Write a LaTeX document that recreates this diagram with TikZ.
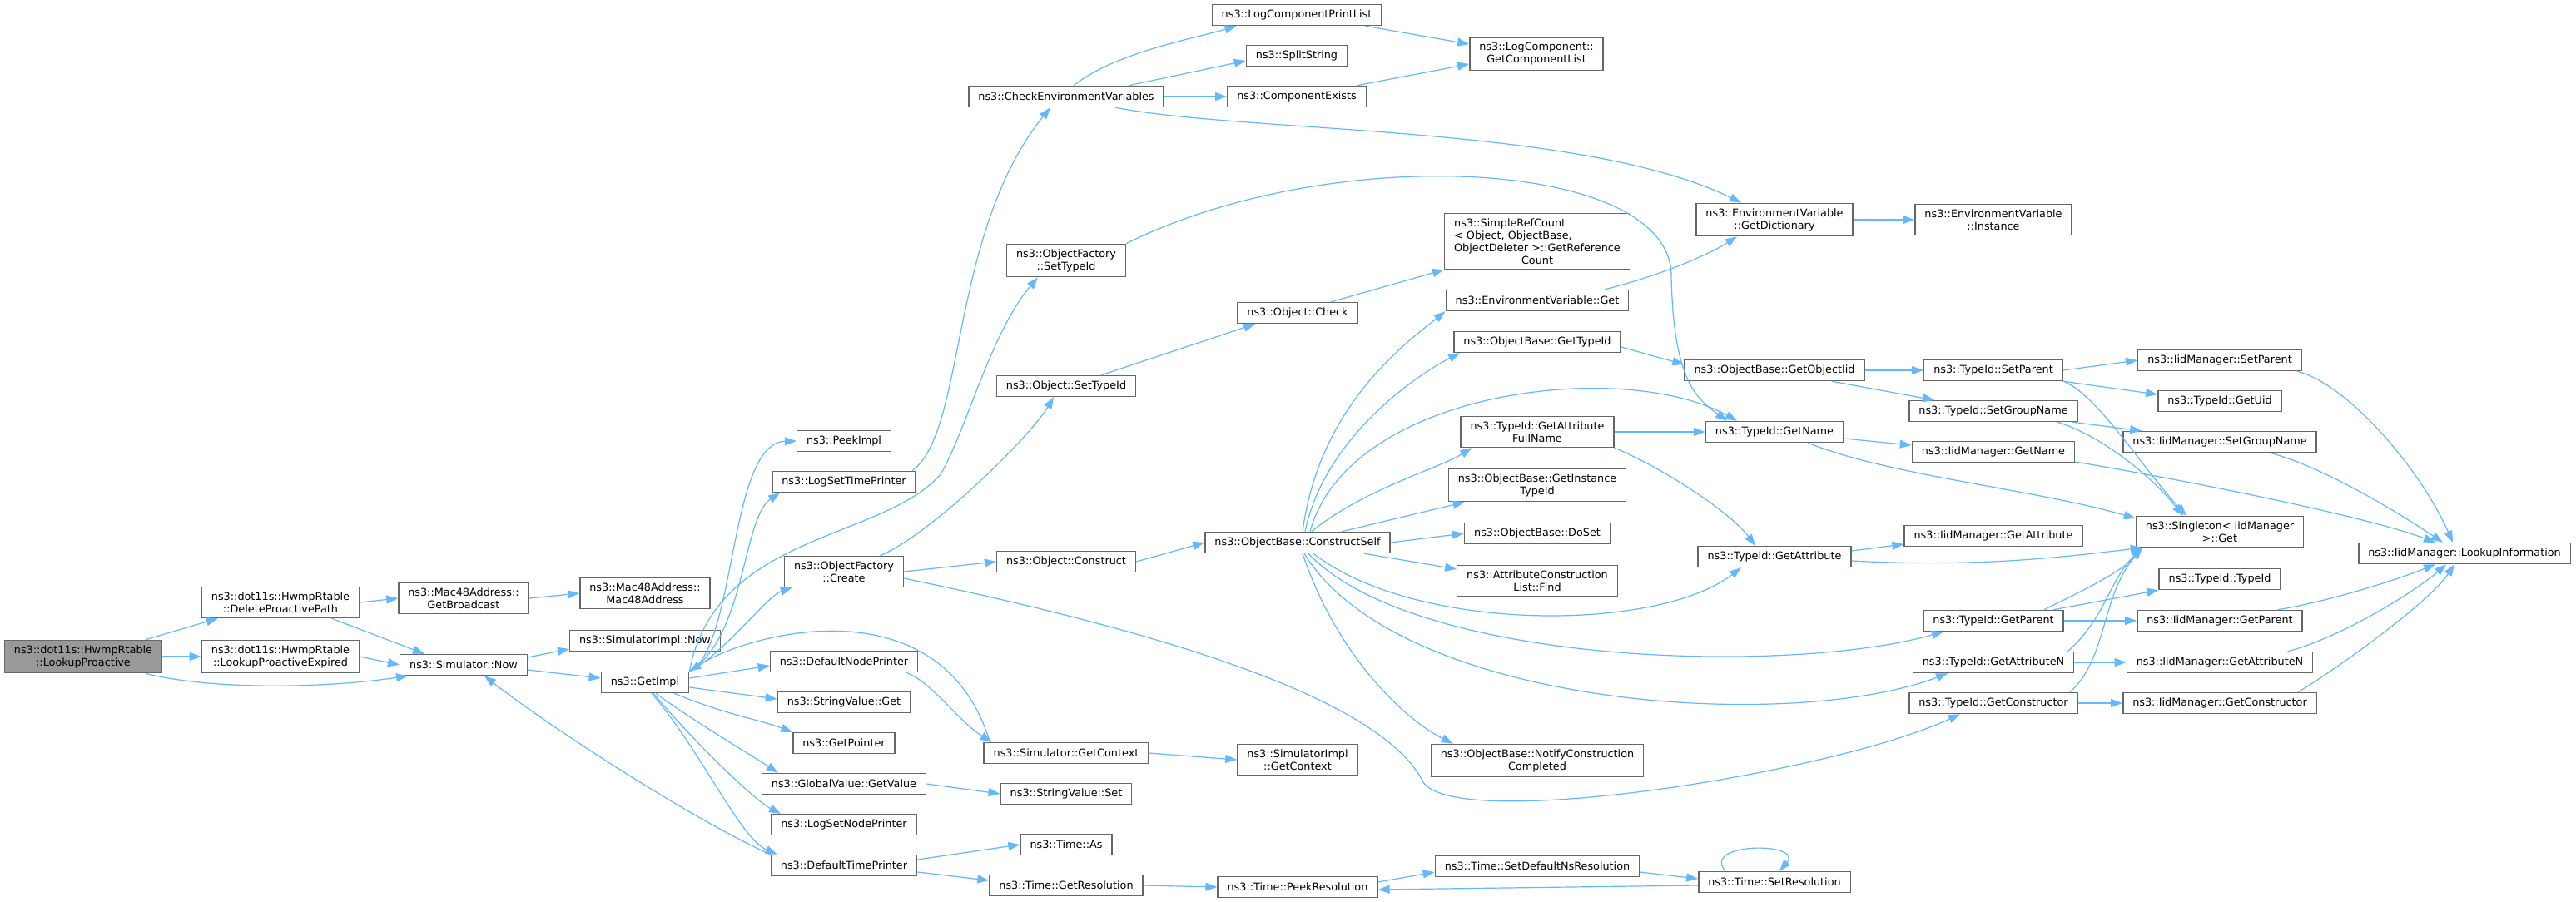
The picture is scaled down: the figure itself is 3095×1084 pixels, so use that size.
\documentclass[tikz,border=0pt]{standalone}
\usepackage{fontspec}
\setmainfont{DejaVu Sans}
\usepackage{calc}
\usepackage{xcolor}
\usepackage{tikz}
\usetikzlibrary{arrows.meta}
\definecolor{azzurro}{HTML}{63B8FF}
\definecolor{bordo}{HTML}{666666}
\definecolor{grigio}{HTML}{999999}

\begin{document}
\begin{tikzpicture}[x=1pt, y=-1pt,
    every node/.style={
        rectangle, draw=bordo, line width=1.4pt,
        fill=white, align=center,
        inner xsep=11.5pt, inner ysep=6pt, minimum height=25pt,
        font=\fontsize{12.8}{15}\selectfont % stesso corpo per tutte le caselle
    },
    radice/.style={fill=grigio},
    chiamata/.style={draw=azzurro, line width=1.2pt, -{Triangle[length=14pt,width=10pt]}}
]
\useasboundingbox[fill=white] (0,0) rectangle (3095,1084);

% colonne da sinistra a destra
\node[radice] (lp) at (100,789) {ns3::dot11s::HwmpRtable\\::LookupProactive};
\node (dpp) at (337,724) {ns3::dot11s::HwmpRtable\\::DeleteProactivePath};
\node (lpe) at (337,789) {ns3::dot11s::HwmpRtable\\::LookupProactiveExpired};
\node (gb) at (557,719) {ns3::Mac48Address::\\GetBroadcast};
\node (snow) at (557,799) {ns3::Simulator::Now};
\node (mm) at (775,713) {ns3::Mac48Address::\\Mac48Address};
\node (sin) at (775,770) {ns3::SimulatorImpl::Now};
\node (getimpl) at (775,820) {ns3::GetImpl};
\node (peekimpl) at (1014,530) {ns3::PeekImpl};
\node (lstp) at (1014,579) {ns3::LogSetTimePrinter};
\node (create) at (1014,687) {ns3::ObjectFactory\\::Create};
\node (dnp) at (1014,795) {ns3::DefaultNodePrinter};
\node (svget) at (1014,844) {ns3::StringValue::Get};
\node (getpointer) at (1014,893) {ns3::GetPointer};
\node (gvget) at (1014,942) {ns3::GlobalValue::GetValue};
\node (lsnp) at (1014,991) {ns3::LogSetNodePrinter};
\node (dtp) at (1014,1040) {ns3::DefaultTimePrinter};
\node (checkenv) at (1281,116) {ns3::CheckEnvironmentVariables};
\node (ofsettypeid) at (1281,313) {ns3::ObjectFactory\\::SetTypeId};
\node (objsettypeid) at (1281,464) {ns3::Object::SetTypeId};
\node (construct) at (1281,675) {ns3::Object::Construct};
\node (simgetcontext) at (1281,905) {ns3::Simulator::GetContext};
\node (svset) at (1281,954) {ns3::StringValue::Set};
\node (timeas) at (1281,1015) {ns3::Time::As};
\node (getres) at (1281,1064) {ns3::Time::GetResolution};
\node (lcpl) at (1558,18) {ns3::LogComponentPrintList};
\node (split) at (1558,67) {ns3::SplitString};
\node (compexists) at (1558,116) {ns3::ComponentExists};
\node (objcheck) at (1559,376) {ns3::Object::Check};
\node (constructself) at (1559,652) {ns3::ObjectBase::ConstructSelf};
\node (sigetcontext) at (1559,913) {ns3::SimulatorImpl\\::GetContext};
\node (peekres) at (1559,1066) {ns3::Time::PeekResolution};
\node (getcomplist) at (1846,65) {ns3::LogComponent::\\GetComponentList};
\node (simplerefcount) at (1847,290) {\makebox[\widthof{ObjectDeleter >::GetReference}][l]{ns3::SimpleRefCount}\\\makebox[\widthof{ObjectDeleter >::GetReference}][l]{< Object, ObjectBase,}\\ObjectDeleter >::GetReference\\Count};
\node (envget) at (1847,361) {ns3::EnvironmentVariable::Get};
\node (obgettypeid) at (1847,411) {ns3::ObjectBase::GetTypeId};
\node (getattrfullname) at (1847,519) {ns3::TypeId::GetAttribute\\FullName};
\node (getinsttypeid) at (1847,583) {ns3::ObjectBase::GetInstance\\TypeId};
\node (doset) at (1847,641) {ns3::ObjectBase::DoSet};
\node (aclfind) at (1847,698) {ns3::AttributeConstruction\\List::Find};
\node (notifycc) at (1847,914) {ns3::ObjectBase::NotifyConstruction\\Completed};
\node (setdefns) at (1847,1041) {ns3::Time::SetDefaultNsResolution};
\node (getdict) at (2132,264) {ns3::EnvironmentVariable\\::GetDictionary};
\node (getobjectiid) at (2132,445) {ns3::ObjectBase::GetObjectIid};
\node (tigetname) at (2132,519) {ns3::TypeId::GetName};
\node (tigetattr) at (2132,669) {ns3::TypeId::GetAttribute};
\node (setres) at (2132,1060) {ns3::Time::SetResolution};
\node (envinstance) at (2395,264) {ns3::EnvironmentVariable\\::Instance};
\node (tisetparent) at (2395,445) {ns3::TypeId::SetParent};
\node (tisetgroupname) at (2395,494) {ns3::TypeId::SetGroupName};
\node (iidgetname) at (2395,543) {ns3::IidManager::GetName};
\node (iidgetattr) at (2395,644) {ns3::IidManager::GetAttribute};
\node (tigetparent) at (2395,746) {ns3::TypeId::GetParent};
\node (tigetattrn) at (2395,796) {ns3::TypeId::GetAttributeN};
\node (tigetctor) at (2395,845) {ns3::TypeId::GetConstructor};
\node (iidsetparent) at (2667,433) {ns3::IidManager::SetParent};
\node (getuid) at (2667,482) {ns3::TypeId::GetUid};
\node (iidsetgroupname) at (2667,531) {ns3::IidManager::SetGroupName};
\node (singleton) at (2667,639) {ns3::Singleton< IidManager\\ >::Get};
\node (titypeid) at (2667,696) {ns3::TypeId::TypeId};
\node (iidgetparent) at (2667,746) {ns3::IidManager::GetParent};
\node (iidgetattrn) at (2667,796) {ns3::IidManager::GetAttributeN};
\node (iidgetctor) at (2667,845) {ns3::IidManager::GetConstructor};
\node (lookupinfo) at (2961,665) {ns3::IidManager::LookupInformation};

% chiamate dritte
\foreach \sorg/\dest in {lp/lpe, dpp/gb, lpe/snow, gb/mm, gvget/svset,
    simgetcontext/sigetcontext, getres/peekres, checkenv/compexists,
    create/construct, construct/constructself, constructself/doset,
    getdict/envinstance, getattrfullname/tigetname, getobjectiid/tisetparent,
    tisetparent/iidsetparent, tigetparent/iidgetparent,
    tigetattrn/iidgetattrn, tigetctor/iidgetctor}
    \draw[chiamata] (\sorg.east) -- (\dest.west);

\draw[chiamata] ([xshift=-20pt]lp.north east) -- ([xshift=20pt]dpp.south west);
\draw[chiamata] ([xshift=-34pt]dpp.south east) -- ([xshift=30pt]snow.north west);
\draw[chiamata] ([yshift=9pt]snow.east) -- ([yshift=-10pt]sin.west);
\draw[chiamata] ([yshift=-6pt]snow.east) -- ([yshift=5pt]getimpl.west);
\draw[chiamata] ([yshift=5pt]getimpl.east) -- ([yshift=-5pt]dnp.west);
\draw[chiamata] ([yshift=-6pt]getimpl.east) -- ([yshift=4pt]svget.west);
\draw[chiamata] ([yshift=7pt]dtp.east) -- (timeas.west);
\draw[chiamata] ([yshift=-8pt]dtp.east) -- ([yshift=6pt]getres.west);
\draw[chiamata] ([yshift=6pt]peekres.east) -- ([yshift=-7pt]setdefns.west);
\draw[chiamata] ([yshift=-7pt]setdefns.east) -- ([yshift=4pt]setres.west);
\draw[chiamata] ([yshift=-4pt]setres.west) -- ([yshift=-3pt]peekres.east);
\draw[chiamata] ([yshift=-6pt]obgettypeid.east) -- ([yshift=7pt]getobjectiid.west);
\draw[chiamata] ([yshift=-8pt]tigetname.east) -- ([yshift=8pt]iidgetname.west);
\draw[chiamata] ([yshift=7pt]tigetattr.east) -- ([yshift=-10pt]iidgetattr.west);
\draw[chiamata] ([xshift=-13pt]tigetparent.north east) -- (titypeid.south west);
\draw[chiamata] (tisetparent.south east) -- ([yshift=8pt]getuid.west);
\draw[chiamata] ([xshift=-7pt]tisetgroupname.south east) -- ([xshift=23pt]iidsetgroupname.north west);
\draw[chiamata] ([xshift=-40pt]getobjectiid.south east) -- ([xshift=31pt]tisetgroupname.north west);
\draw[chiamata] ([xshift=-20pt]lcpl.south east) -- ([yshift=12pt]getcomplist.west);
\draw[chiamata] ([xshift=-12pt]compexists.north east) -- ([yshift=-12pt]getcomplist.west);
\draw[chiamata] ([xshift=75pt]checkenv.north) -- ([yshift=-6pt]split.west);
\draw[chiamata] ([xshift=42pt]objsettypeid.north) -- ([xshift=22pt]objcheck.south west);
\draw[chiamata] ([xshift=40pt]objcheck.north) -- (simplerefcount.south west);
\draw[chiamata] ([xshift=53pt]constructself.north) -- ([xshift=20pt]getinsttypeid.south west);
\draw[chiamata] ([xshift=80pt]constructself.south) -- ([yshift=14pt]aclfind.west);

% chiamate curve
\draw[chiamata] ([xshift=-20pt]lp.south east) .. controls +(80,20) and +(-100,15) .. ([xshift=10pt]snow.south west);
\draw[chiamata] (dtp.north west) .. controls +(-100,-45) and +(70,55) .. ([xshift=25pt]snow.south);
\draw[chiamata] (getimpl.north east) .. controls +(57,-28) and +(-82,2) .. (peekimpl.west);
\draw[chiamata] (getimpl.north east) .. controls +(67,-40) and +(-45,30) .. ([xshift=10pt]lstp.south west);
\draw[chiamata] (getimpl.north east) .. controls (860,640) and (1060,650) .. (1130,570)
    .. controls (1160,520) and (1190,400) .. ([xshift=-34pt]ofsettypeid.south);
\draw[chiamata] ([xshift=-5pt]lstp.north east) .. controls +(65,-47) and +(-122,151) .. ([xshift=-19pt]checkenv.south);
\draw[chiamata] (getimpl.north east) .. controls +(40,-20) and +(-30,10) .. ([xshift=10pt]create.south west);
\draw[chiamata] ([xshift=35pt]getimpl.south) .. controls +(60,25) and +(-40,-15) .. (getpointer.north west);
\draw[chiamata] ([xshift=13pt]getimpl.south) .. controls +(40,30) and +(-30,-20) .. ([xshift=20pt]gvget.north west);
\draw[chiamata] ([xshift=10pt]getimpl.south) .. controls +(50,60) and +(-30,-15) .. ([xshift=12pt]lsnp.north west);
\draw[chiamata] ([xshift=8pt]getimpl.south) .. controls +(60,70) and +(-45,-20) .. ([xshift=8pt]dtp.north west);
\draw[chiamata] ([xshift=-15pt]dnp.south east) .. controls +(30,10) and +(-40,-25) .. ([xshift=10pt]simgetcontext.north west);
\draw[chiamata] ([xshift=8pt]simgetcontext.north west) .. controls +(-59,-192) and +(72,-47) .. (getimpl.north east);
\draw[chiamata] ([xshift=-29pt]create.north east) .. controls +(60,-25) and +(-30,50) .. ([xshift=-15pt]objsettypeid.south);
\draw[chiamata] ([yshift=-8pt]create.east) .. controls (1400,760) and (1660,840) .. (1710,940)
    .. controls (1750,1000) and (2200,930) .. ([xshift=-40pt]tigetctor.south);
\draw[chiamata] ([xshift=9pt]checkenv.north) .. controls +(50,-40) and +(-50,15) .. ([xshift=30pt]lcpl.south west);
\draw[chiamata] ([xshift=59pt]checkenv.south) .. controls +(160,31) and +(-192,-94) .. ([xshift=-40pt]getdict.north);
\draw[chiamata] (ofsettypeid.north east) .. controls (1600,170) and (2005,190) .. (2008,330)
    .. controls (2010,460) and (2040,480) .. ([xshift=-57pt]tigetname.north);
\draw[chiamata] ([xshift=6pt]constructself.north) .. controls +(20,-150) and +(-50,40) .. (envget.south west);
\draw[chiamata] ([xshift=9pt]constructself.north) .. controls +(25,-120) and +(-40,20) .. ([xshift=8pt]obgettypeid.south west);
\draw[chiamata] ([xshift=15pt]constructself.north) .. controls +(46,-170) and +(-137,-76) .. ([xshift=-45pt]tigetname.north);
\draw[chiamata] ([xshift=17pt]constructself.north) .. controls +(60,-50) and +(-40,25) .. ([xshift=14pt]getattrfullname.south west);
\draw[chiamata] ([xshift=19pt]constructself.south) .. controls +(122,95) and +(-102,78) .. ([xshift=-40pt]tigetattr.south);
\draw[chiamata] ([xshift=13pt]constructself.south) .. controls +(128,135) and +(-185,52) .. ([xshift=-60pt]tigetparent.south);
\draw[chiamata] ([xshift=8pt]constructself.south) .. controls +(113,185) and +(-190,72) .. ([xshift=-55pt]tigetattrn.south);
\draw[chiamata] ([xshift=6pt]constructself.south) .. controls +(40,120) and +(-60,-30) .. ([xshift=27pt]notifycc.north west);
\draw[chiamata] ([xshift=81pt]envget.north) .. controls +(60,-15) and +(-40,25) .. ([xshift=-45pt]getdict.south);
\draw[chiamata] (getattrfullname.south east) .. controls +(60,25) and +(-30,-40) .. ([xshift=-23pt]tigetattr.north);
\draw[chiamata] ([xshift=40pt]tigetname.south) .. controls +(100,40) and +(-120,-35) .. ([yshift=16pt]singleton.west);
\draw[chiamata] (tisetparent.south east) .. controls +(40,15) and +(-55,-60) .. ([xshift=-40pt]singleton.north);
\draw[chiamata] ([xshift=-25pt]tisetgroupname.south east) .. controls +(50,15) and +(-40,-50) .. ([xshift=-44pt]singleton.north);
\draw[chiamata] ([yshift=-12pt]iidgetname.east) .. controls +(150,25) and +(-80,-30) .. ([xshift=-35pt]lookupinfo.north);
\draw[chiamata] ([yshift=-5pt]tigetattr.east) .. controls +(150,8) and +(-100,12) .. ([xshift=8pt]singleton.south west);
\draw[chiamata] ([xshift=-24pt]tigetparent.north east) .. controls +(40,-20) and +(-25,30) .. ([xshift=8pt]singleton.south west);
\draw[chiamata] ([xshift=-8pt]tigetattrn.north east) .. controls +(45,-40) and +(-40,40) .. ([xshift=8pt]singleton.south west);
\draw[chiamata] ([xshift=-10pt]tigetctor.north east) .. controls +(45,-40) and +(-50,60) .. ([xshift=8pt]singleton.south west);
\draw[chiamata] ([xshift=-6pt]iidsetparent.south east) .. controls +(60,15) and +(-40,-90) .. ([xshift=-14pt]lookupinfo.north);
\draw[chiamata] ([xshift=-57pt]iidsetgroupname.south east) .. controls +(60,15) and +(-60,-40) .. ([xshift=-26pt]lookupinfo.north);
\draw[chiamata] ([xshift=-30pt]iidgetparent.north east) .. controls +(60,-10) and +(-50,20) .. ([xshift=-35pt]lookupinfo.south);
\draw[chiamata] ([xshift=-31pt]iidgetattrn.north east) .. controls +(60,-15) and +(-40,35) .. ([xshift=-22pt]lookupinfo.south);
\draw[chiamata] ([xshift=-23pt]iidgetctor.north east) .. controls +(50,-30) and +(-30,45) .. ([xshift=-12pt]lookupinfo.south);
\draw[chiamata] ([xshift=-59pt]setres.north) .. controls +(-30,-35) and +(30,-35) .. ([xshift=6pt]setres.north);
\end{tikzpicture}
\end{document}
